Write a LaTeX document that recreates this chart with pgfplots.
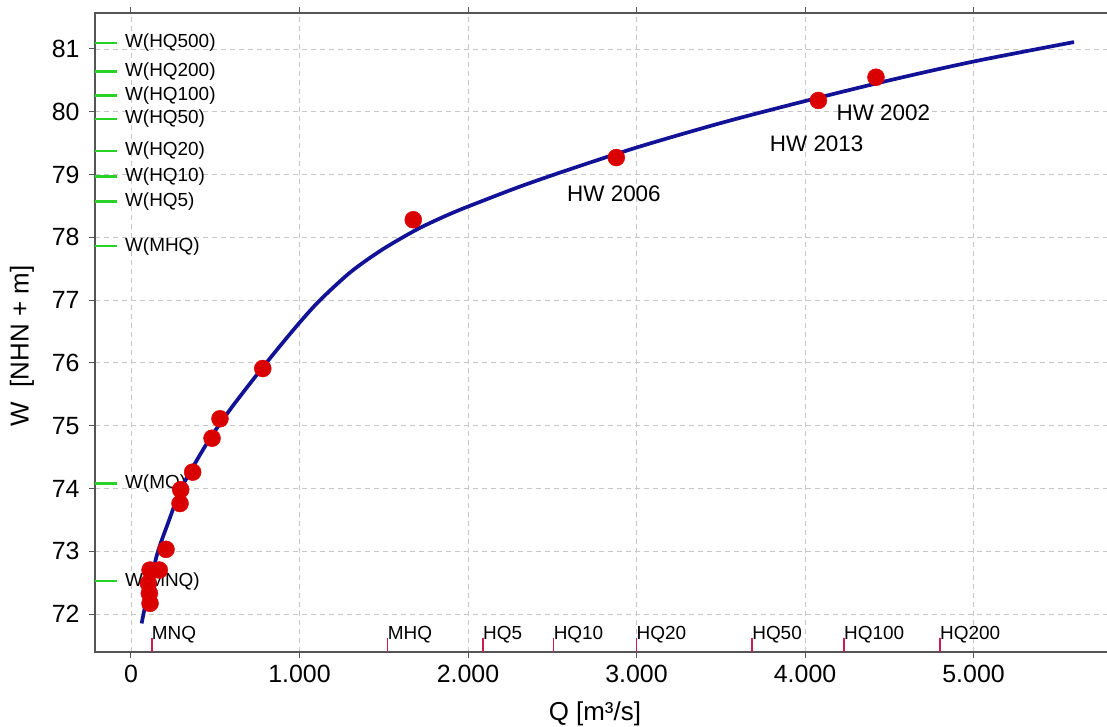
\documentclass[border=0pt]{standalone}
\usepackage{fontspec}
\setmainfont{Liberation Sans}
\usepackage{pgfplots}
\pgfplotsset{compat=1.18}
\definecolor{curveblue}{RGB}{18,18,150}
\definecolor{ptred}{RGB}{218,0,0}
\definecolor{levgreen}{RGB}{40,210,40}
\definecolor{qred}{RGB}{200,30,80}
\definecolor{axgray}{RGB}{85,85,85}
\newcommand\wlevel[2]{%
  \addplot[levgreen, line width=2.2bp] coordinates {(-214,#1) (-84,#1)};
  \node[anchor=west, inner sep=0pt, font=\fontsize{19}{22}\selectfont] at (axis cs:-36,#1) {#2};
}
\newcommand\qmark[2]{%
  \addplot[qred, line width=1.6bp] coordinates {(#1,71.395) (#1,71.62)};
  \node[anchor=base west, inner sep=0pt, font=\fontsize{19}{22}\selectfont] at (axis cs:#1,71.60) {#2};
}
\begin{document}
\begin{tikzpicture}
\begin{axis}[
  at={(95bp,75bp)}, anchor=south west,
  scale only axis, width=1014bp, height=639bp,
  xmin=-213.6, xmax=5804, ymin=71.395, ymax=81.573,
  xtick={0,1000,2000,3000,4000,5000}, ytick={72,73,74,75,76,77,78,79,80,81},
  scaled x ticks=false,
  /pgf/number format/.cd, 1000 sep={.}, assume math mode=true, /pgfplots/.cd,
  tick align=outside, major tick length=6bp,
  tick style={axgray, line width=1bp},
  axis line style={axgray, line width=1.5bp},
  grid=major,
  major grid style={gray!45, line width=0.8bp, dash pattern=on 5bp off 4bp},
  ticklabel style={font=\fontsize{25}{30}\selectfont},
  xticklabel style={yshift=-4bp},
  yticklabel style={xshift=-6bp},
  xlabel={Q [m³/s]},
  ylabel={W\ \ [NHN + m]},
  label style={font=\fontsize{26}{30}\selectfont},
  xlabel style={at={(axis description cs:0.493,-0.097)}, anchor=center},
  ylabel style={at={(axis description cs:-0.072,0.479)}, anchor=center},
  clip=false,
]
% water level marks
\wlevel{81.10}{W(HQ500)}
\wlevel{80.64}{W(HQ200)}
\wlevel{80.26}{W(HQ100)}
\wlevel{79.89}{W(HQ50)}
\wlevel{79.38}{W(HQ20)}
\wlevel{78.97}{W(HQ10)}
\wlevel{78.57}{W(HQ5)}
\wlevel{77.86}{W(MHQ)}
\wlevel{74.08}{W(MQ)}
\wlevel{72.52}{W(MNQ)}
% discharge marks
\qmark{123}{MNQ}
\qmark{1523}{MHQ}
\qmark{2089}{HQ5}
\qmark{2508}{HQ10}
\qmark{3000}{HQ20}
\qmark{3686}{HQ50}
\qmark{4231}{HQ100}
\qmark{4801}{HQ200}
% measurements
\addplot[only marks, mark=*, mark size=8.5bp, mark options={fill=ptred, draw=ptred}] coordinates {
 (782,75.91) (528,75.11) (481,74.80) (366,74.26) (295,73.98) (291,73.76)
 (208,73.03) (168,72.70) (113,72.70) (103,72.49) (109,72.33) (113,72.17)
 (1675,78.28) (2880,79.27) (4079,80.18) (4421,80.55)
};
% rating curve
\addplot[curveblue, line width=3.7bp, smooth] coordinates {
 (63,71.85) (100,72.33) (156,72.96) (220,73.45) (295,73.98) (380,74.40)
 (469,74.80) (528,75.03) (600,75.30) (700,75.65) (800,75.99) (900,76.32)
 (1000,76.64) (1100,76.94) (1200,77.20) (1300,77.44) (1400,77.64) (1500,77.82)
 (1600,77.98) (1700,78.13) (1800,78.26) (1900,78.38) (2000,78.49) (2300,78.80)
 (2600,79.08) (3000,79.43) (3500,79.82) (4000,80.17) (4500,80.50) (5000,80.80)
 (5596,81.11)
};
\node[font=\fontsize{22.5}{26}\selectfont] at (axis cs:2866,78.69) {HW 2006};
\node[font=\fontsize{22.5}{26}\selectfont] at (axis cs:4069,79.49) {HW 2013};
\node[font=\fontsize{22.5}{26}\selectfont] at (axis cs:4465,79.99) {HW 2002};
\end{axis}
\pgfresetboundingbox
\useasboundingbox (0,0) rectangle (1107bp,727bp);
\end{tikzpicture}
\end{document}
